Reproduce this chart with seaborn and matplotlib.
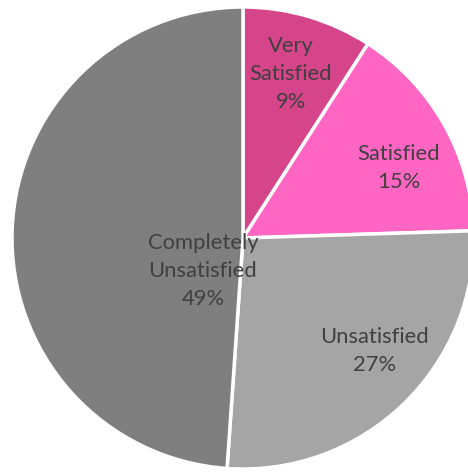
import matplotlib
matplotlib.use("Agg")
import numpy as np
import matplotlib.pyplot as plt
import seaborn as sns

# Survey satisfaction shares (percent)
labels = ['Very\nSatisfied', 'Satisfied', 'Unsatisfied', 'Completely\nUnsatisfied']
shares = [9.1, 15.4, 26.6, 48.9]
colors = ['#D6448A', '#FF66C4', '#A5A5A5', '#7F7F7F']
# where each label sits (radius fraction, clockwise angle from top in degrees)
label_spots = [(0.74, 16.3), (0.74, 65.8), (0.75, 130.8), (0.225, 230.5)]

sns.set_theme(style='white')
plt.rcParams['font.family'] = ['Lato', 'DejaVu Sans']

fig = plt.figure(figsize=(4.68, 4.72), dpi=100)
ax = fig.add_axes([0, 0, 1, 1])

R = 231
cx, cy = 243, 238
wedges, texts = ax.pie(shares, colors=colors, startangle=90, counterclock=False,
                       radius=1.0, wedgeprops=dict(edgecolor='white', linewidth=2.5))

for (r, ang), lab, share in zip(label_spots, labels, shares):
    t = np.deg2rad(90 - ang)
    ax.text(r * np.cos(t), r * np.sin(t), f'{lab}\n{round(share)}%', ha='center', va='center',
            fontsize=15.8, color='#404040', linespacing=1.5)

ax.set_xlim(-cx / R, (468 - cx) / R)
ax.set_ylim(-(472 - cy) / R, cy / R)
ax.set_aspect('equal')
ax.axis('off')

fig.savefig('out.png', dpi=100)
